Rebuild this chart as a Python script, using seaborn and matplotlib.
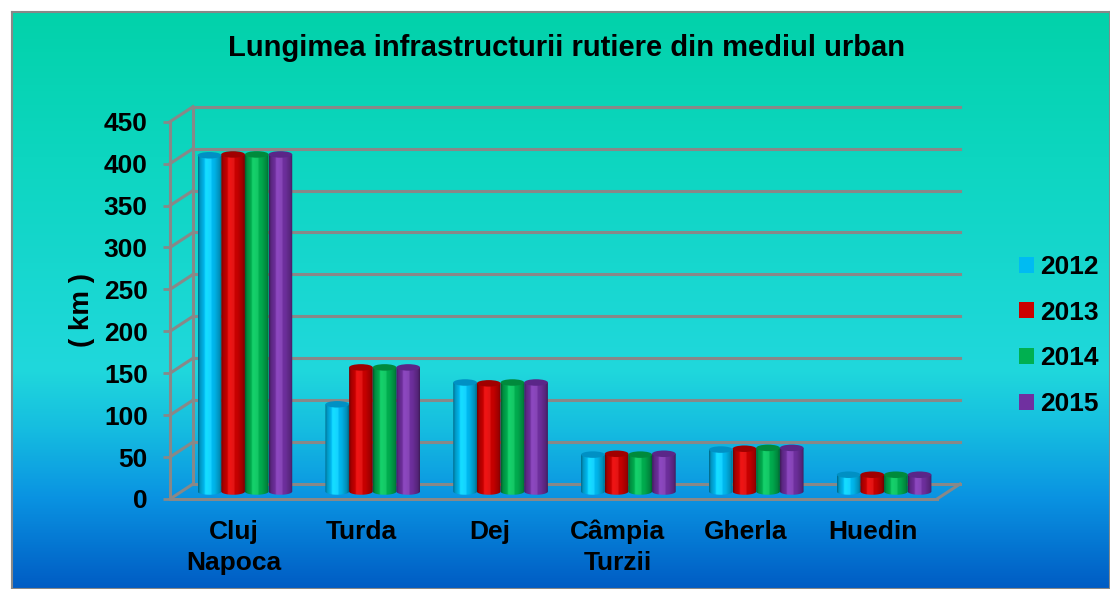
import matplotlib
matplotlib.use('Agg')
import matplotlib.pyplot as plt
import matplotlib.patches as mpatches
from matplotlib.colors import LinearSegmentedColormap, to_rgb
import numpy as np
import pandas as pd
import seaborn as sns

# data
cities = ['Cluj\nNapoca', 'Turda', 'Dej', 'Câmpia\nTurzii', 'Gherla', 'Huedin']
years = ['2012', '2013', '2014', '2015']
km_2012 = [401, 104, 130, 44, 50, 20]
km_2013 = [402, 148, 129, 45, 51, 20]
km_2014 = [402, 148, 130, 44, 52, 20]
km_2015 = [402, 148, 130, 45, 52, 20]
yticks = [0, 50, 100, 150, 200, 250, 300, 350, 400, 450]

colors = ['#00BBF2', '#CC0000', '#00B050', '#7030A0']
tops = ['#0090C4', '#A00000', '#008A3C', '#5A2688']
grid_col = '#888888'

plt.rcParams['font.family'] = ['Liberation Sans', 'DejaVu Sans']
plt.rcParams['font.weight'] = 'bold'

df = pd.DataFrame({
    'city': cities * 4,
    'year': [y for y in years for _ in cities],
    'km': km_2012 + km_2013 + km_2014 + km_2015,
})

W, H = 1110, 589
fig = plt.figure(figsize=(W / 100, H / 100), dpi=100, facecolor='white')

# gradient background panel
bg = fig.add_axes([12 / W, 0, 1 - 12 / W, (H - 12) / H])
bg_cmap = LinearSegmentedColormap.from_list('bg', [
    (0.0, '#02D2AA'), (0.25, '#0DD6C0'), (0.62, '#20D8DC'),
    (0.72, '#16BEE0'), (0.84, '#0A94E2'), (1.0, '#005CC4')])
grad = np.linspace(0, 1, 256).reshape(-1, 1)
bg.imshow(grad, cmap=bg_cmap, aspect='auto', extent=[0, 1, 0, 1], origin='upper')
bg.set_xticks([]); bg.set_yticks([])
for s in bg.spines.values():
    s.set_color('#888888'); s.set_linewidth(1.5)

# main axes = front plane of the 3d chart
ax = fig.add_axes([170 / W, (H - 499) / H, 767 / W, (499 - 121.7) / H])
ax.set_facecolor('none')

sns.barplot(data=df, x='city', y='km', hue='year', palette=colors,
            width=0.74, gap=0, saturation=1, legend=False, errorbar=None, ax=ax)

# depth offsets (data units)
px_x = 767 / 6.0
px_y = 377.3 / 450.0
bx, by = 23 / px_x, 15 / px_y
hx, hy = 11 / px_x, 7.5 / px_y
ell_h = 6.5 / px_y

# back wall, side wall and floor
for v in yticks:
    ax.plot([-0.5 + bx, 5.5 + bx], [v + by, v + by], color=grid_col, lw=2.2, clip_on=False, zorder=1)
    ax.plot([-0.5, -0.5 + bx], [v, v + by], color=grid_col, lw=2.2, clip_on=False, zorder=1)
ax.plot([-0.5 + bx, -0.5 + bx], [by, 450 + by], color=grid_col, lw=2.2, clip_on=False, zorder=1)
ax.plot([-0.5, -0.5], [0, 450], color=grid_col, lw=2.2, clip_on=False, zorder=1)
ax.plot([-0.5, 5.5], [0, 0], color=grid_col, lw=2.2, clip_on=False, zorder=1)
ax.plot([5.5, 5.5 + bx], [0, by], color=grid_col, lw=2.2, clip_on=False, zorder=1)


def draw_cylinder(x0, w, bottom, h, color, top_color):
    base = np.array(to_rgb(color))
    t = np.linspace(0, 1, 64)
    shade = np.interp(t, [0, 0.08, 0.35, 0.7, 0.92, 1], [0.55, 0.8, 1.08, 0.95, 0.75, 0.55])
    row = np.clip(base[None, :] * shade[:, None] + (shade[:, None] > 1) * 0.08, 0, 1)
    img = row[None, :, :]
    xc = x0 + w / 2
    ang = np.linspace(np.pi, 2 * np.pi, 40)
    verts = [(x0, bottom + h)] + list(zip(xc + w / 2 * np.cos(ang), bottom + ell_h / 2 * np.sin(ang))) \
        + [(x0 + w, bottom + h)]
    clip = mpatches.Polygon(verts, closed=True, transform=ax.transData)
    im = ax.imshow(img, extent=[x0, x0 + w, bottom - ell_h / 2, bottom + h],
                   aspect='auto', interpolation='bilinear', zorder=3)
    im.set_clip_path(clip)
    ax.add_patch(mpatches.Ellipse((xc, bottom + h), w, ell_h, facecolor=top_color,
                                  edgecolor='none', zorder=4))


bars = list(ax.patches)
for i, p in enumerate(bars):
    k = i // len(cities)
    draw_cylinder(p.get_x() + hx, p.get_width(), hy, p.get_height(), colors[k], tops[k])
    p.set_visible(False)

ax.set_xlim(-0.5, 5.5)
ax.set_ylim(0, 450)
ax.set_yticks(yticks)
ax.set_yticklabels([str(v) for v in yticks], fontsize=19, fontweight='bold')
ax.set_xticks(range(len(cities)))
ax.set_xticklabels(cities, fontsize=19, fontweight='bold', linespacing=1.36)
ax.tick_params(axis='y', length=5, width=2, color=grid_col, pad=11)
ax.tick_params(axis='x', length=0, pad=15)
for s in ax.spines.values():
    s.set_visible(False)
ax.set_xlabel('')
ax.set_ylabel('( km )', fontsize=20, fontweight='bold')
ax.yaxis.set_label_coords(-0.098, 0.5)

fig.text(567 / W, 1 - 48 / H, 'Lungimea infrastructurii rutiere din mediul urban',
         ha='center', va='center', fontsize=21, fontweight='bold')

handles = [mpatches.Patch(facecolor=c, edgecolor='none', label=y) for c, y in zip(colors, years)]
fig.legend(handles=handles, loc='upper left', bbox_to_anchor=(1019 / W, 1 - 255 / H),
           frameon=False, handlelength=0.55, handleheight=0.55,
           handletextpad=0.25, labelspacing=0.82, borderpad=0, borderaxespad=0,
           prop={'weight': 'bold', 'size': 19})

fig.savefig('out.png', dpi=100)
